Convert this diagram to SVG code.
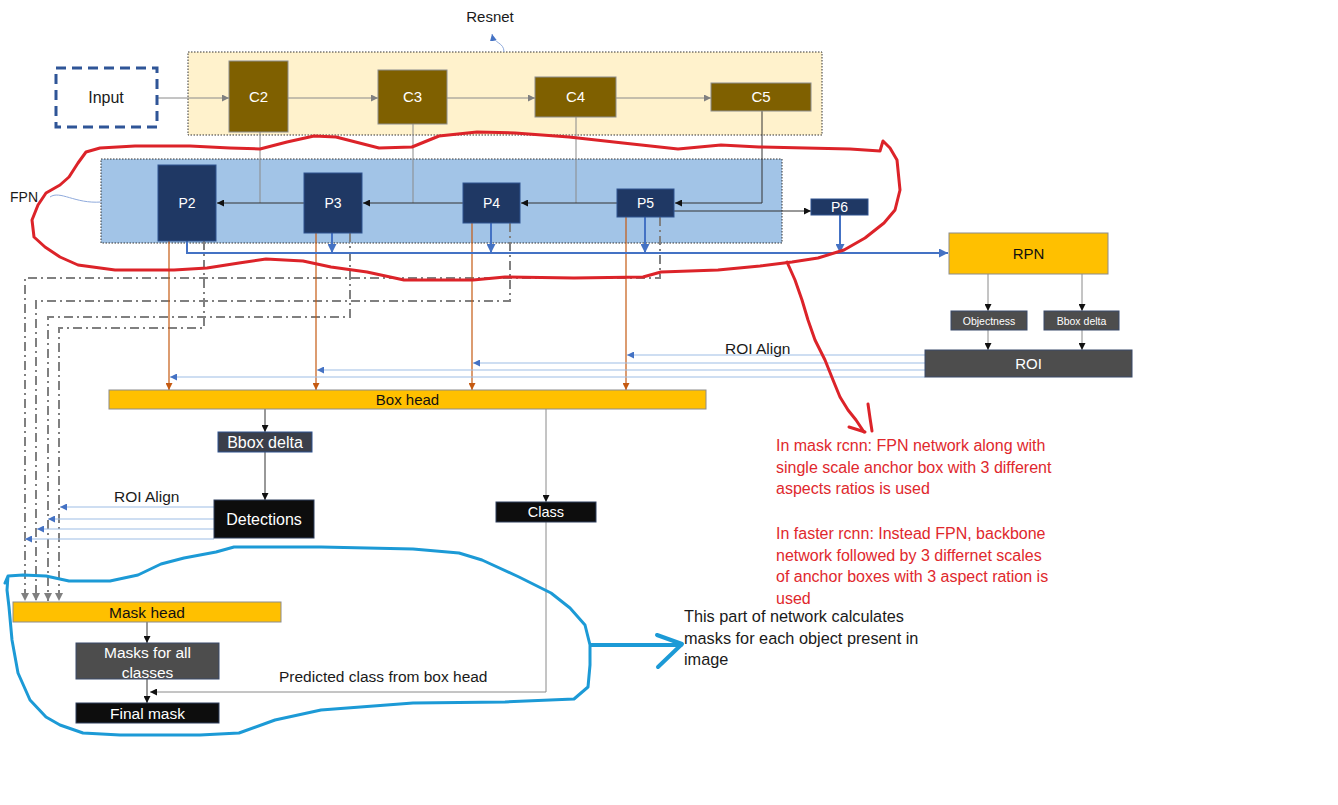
<svg xmlns="http://www.w3.org/2000/svg" width="1338" height="805" viewBox="0 0 1338 805">
<style>
text{font-family:"Liberation Sans",Arial,sans-serif;}
.lbl{fill:#1a1a1a;font-size:15px;}
.wt{fill:#ffffff;text-anchor:middle;}
.bk{fill:#111111;text-anchor:middle;}
.red{fill:#e0282d;font-size:16px;}
.note{fill:#1a1a1a;font-size:16.3px;}
.cbox{fill:#7f6000;stroke:#8c8c8c;stroke-width:1;}
.pbox{fill:#1f3864;stroke:#2f528f;stroke-width:1;}
.ybox{fill:#ffc000;stroke:#8c8c8c;stroke-width:1;}
.gbox{fill:#4d4d4d;stroke:#3a4a6a;stroke-width:1;}
.kbox{fill:#0d0d0d;stroke:#2f3e5c;stroke-width:1;}
.gl{fill:none;stroke:#8a8a8a;stroke-width:1;}
.kl{fill:none;stroke:#333333;stroke-width:1;}
.bl{fill:none;stroke:#4472c4;stroke-width:2;}
.ol{fill:none;stroke:#c55a11;stroke-width:1.2;}
.lb{fill:none;stroke:#9dbde6;stroke-width:1.2;}
.dd{fill:none;stroke:#808080;stroke-width:2;stroke-dasharray:9 4 2 4;}
.red-c{fill:none;stroke:#dc2329;stroke-width:3;stroke-linejoin:round;stroke-linecap:round;}
.blu-c{fill:none;stroke:#1c9ad6;stroke-width:3;stroke-linejoin:round;stroke-linecap:round;}
</style>
<defs>
<marker id="ag" viewBox="0 0 10 10" refX="10" refY="5" markerWidth="7" markerHeight="7" markerUnits="userSpaceOnUse" orient="auto"><path d="M0,0L10,5L0,10z" fill="#808080"/></marker>
<marker id="ak" viewBox="0 0 10 10" refX="10" refY="5" markerWidth="7" markerHeight="7" markerUnits="userSpaceOnUse" orient="auto"><path d="M0,0L10,5L0,10z" fill="#111111"/></marker>
<marker id="ab" viewBox="0 0 10 10" refX="10" refY="5" markerWidth="9" markerHeight="9" markerUnits="userSpaceOnUse" orient="auto"><path d="M0,0L10,5L0,10z" fill="#4472c4"/></marker>
<marker id="ao" viewBox="0 0 10 10" refX="10" refY="5" markerWidth="7" markerHeight="7" markerUnits="userSpaceOnUse" orient="auto"><path d="M0,0L10,5L0,10z" fill="#c55a11"/></marker>
<marker id="al" viewBox="0 0 10 10" refX="10" refY="5" markerWidth="7" markerHeight="7" markerUnits="userSpaceOnUse" orient="auto"><path d="M0,0L10,5L0,10z" fill="#4472c4"/></marker>
<marker id="ad" viewBox="0 0 10 10" refX="10" refY="5" markerWidth="8" markerHeight="8" markerUnits="userSpaceOnUse" orient="auto"><path d="M0,0L10,5L0,10z" fill="#808080"/></marker>
</defs>
<rect width="1338" height="805" fill="#ffffff"/>

<g id="resnet">
<rect x="188" y="52" width="634" height="83" fill="#fff2cc" stroke="#333" stroke-width="1" stroke-dasharray="1.5 1.5"/>
<text x="490" y="22" class="lbl" text-anchor="middle">Resnet</text>
</g>
<g id="fpn">
<rect x="101" y="159" width="681" height="84" fill="#a2c4e7" stroke="#333" stroke-width="1" stroke-dasharray="1.5 1.5"/>
<text x="10" y="202" class="lbl" style="font-size:14px">FPN</text>
</g>

<g id="connectors">
<path d="M504,52 C504,42 494,44 492,34" fill="none" stroke="#8faadc" stroke-width="1" marker-end="url(#al)"/>
<path d="M50,197 C60,190 75,204 101,202" fill="none" stroke="#8faadc" stroke-width="1"/>
<line x1="157" y1="98" x2="229" y2="98" class="gl" marker-end="url(#ag)"/>
<line x1="288" y1="98" x2="378" y2="98" class="gl" marker-end="url(#ag)"/>
<line x1="447" y1="98" x2="535" y2="98" class="gl" marker-end="url(#ag)"/>
<line x1="616" y1="98" x2="711" y2="98" class="gl" marker-end="url(#ag)"/>
<path d="M260,132V203" class="gl" stroke="#666"/>
<path d="M413,124V203" class="gl" stroke="#666"/>
<path d="M576,117V203" class="gl" stroke="#666"/>
<path d="M762,111V203H675" class="kl" marker-end="url(#ak)"/>
<line x1="617" y1="203" x2="521" y2="203" class="kl" marker-end="url(#ak)"/>
<line x1="463" y1="203" x2="363" y2="203" class="kl" marker-end="url(#ak)"/>
<line x1="304" y1="203" x2="217" y2="203" class="kl" marker-end="url(#ak)"/>
<line x1="674" y1="211" x2="811" y2="211" class="kl" marker-end="url(#ak)"/>
<path d="M660,217V278H25V601" class="dd" marker-end="url(#ad)"/>
<path d="M510,223V301H36V601" class="dd" marker-end="url(#ad)"/>
<path d="M350,233V317H48V601" class="dd" marker-end="url(#ad)"/>
<path d="M204,241V328H59V601" class="dd" marker-end="url(#ad)"/>
<line x1="169" y1="241" x2="169" y2="390" class="ol" marker-end="url(#ao)"/>
<line x1="316" y1="233" x2="316" y2="390" class="ol" marker-end="url(#ao)"/>
<line x1="472" y1="223" x2="472" y2="390" class="ol" marker-end="url(#ao)"/>
<line x1="626" y1="217" x2="626" y2="390" class="ol" marker-end="url(#ao)"/>
<path d="M187,241V253H948" class="bl" marker-end="url(#ab)"/>
<line x1="332" y1="233" x2="332" y2="253" class="bl" marker-end="url(#ab)"/>
<line x1="491" y1="223" x2="491" y2="253" class="bl" marker-end="url(#ab)"/>
<line x1="645" y1="217" x2="645" y2="253" class="bl" marker-end="url(#ab)"/>
<line x1="840" y1="215" x2="840" y2="253" class="bl" marker-end="url(#ab)"/>
<line x1="988" y1="274" x2="988" y2="311" class="gl" marker-end="url(#ak)"/>
<line x1="1082" y1="274" x2="1082" y2="311" class="gl" marker-end="url(#ak)"/>
<line x1="988" y1="330" x2="988" y2="350" class="gl" marker-end="url(#ak)"/>
<line x1="1082" y1="330" x2="1082" y2="350" class="gl" marker-end="url(#ak)"/>
<line x1="925" y1="355" x2="627" y2="355" class="lb" marker-end="url(#al)"/>
<line x1="925" y1="363" x2="473" y2="363" class="lb" marker-end="url(#al)"/>
<line x1="925" y1="370" x2="317" y2="370" class="lb" marker-end="url(#al)"/>
<line x1="925" y1="377" x2="170" y2="377" class="lb" marker-end="url(#al)"/>
<line x1="265" y1="409" x2="265" y2="432" class="kl" marker-end="url(#ak)"/>
<line x1="265" y1="452" x2="265" y2="500" class="kl" marker-end="url(#ak)"/>
<line x1="546" y1="409" x2="546" y2="502" class="gl" marker-end="url(#ak)"/>
<path d="M546,522V692H150" class="gl" marker-end="url(#ak)"/>
<line x1="214" y1="507" x2="60" y2="507" class="lb" marker-end="url(#al)"/>
<line x1="214" y1="519" x2="48" y2="519" class="lb" marker-end="url(#al)"/>
<line x1="214" y1="529" x2="37" y2="529" class="lb" marker-end="url(#al)"/>
<line x1="214" y1="539" x2="25" y2="539" class="lb" marker-end="url(#al)"/>
<line x1="147" y1="622" x2="147" y2="643" class="kl" marker-end="url(#ak)"/>
<line x1="147" y1="679" x2="147" y2="703" class="kl" marker-end="url(#ak)"/>
</g>

<g id="input"><rect x="56" y="68" width="101" height="59" fill="#ffffff" stroke="#2f5597" stroke-width="3" stroke-dasharray="10 6"/><text x="106" y="103" class="lbl" text-anchor="middle" style="font-size:16px">Input</text></g>
<g id="c2"><rect x="229" y="61" width="59" height="71" class="cbox"/><text x="258.5" y="102" class="wt" style="font-size:15px">C2</text></g>
<g id="c3"><rect x="378" y="70" width="69" height="54" class="cbox"/><text x="412.5" y="102" class="wt" style="font-size:15px">C3</text></g>
<g id="c4"><rect x="535" y="77" width="81" height="40" class="cbox"/><text x="575.5" y="102" class="wt" style="font-size:15px">C4</text></g>
<g id="c5"><rect x="711" y="83" width="100" height="28" class="cbox"/><text x="761" y="102" class="wt" style="font-size:15px">C5</text></g>

<g id="p2"><rect x="158" y="165" width="58" height="76" class="pbox"/><text x="187" y="208" class="wt" style="font-size:14px">P2</text></g>
<g id="p3"><rect x="304" y="173" width="58" height="60" class="pbox"/><text x="333" y="208" class="wt" style="font-size:14px">P3</text></g>
<g id="p4"><rect x="463" y="183" width="57" height="40" class="pbox"/><text x="491.5" y="208" class="wt" style="font-size:14px">P4</text></g>
<g id="p5"><rect x="617" y="189" width="57" height="28" class="pbox"/><text x="645.5" y="208" class="wt" style="font-size:14px">P5</text></g>
<g id="p6"><rect x="811" y="199" width="57" height="16" class="pbox"/><text x="839.5" y="212" class="wt" style="font-size:14px">P6</text></g>

<g id="rpn"><rect x="949" y="233" width="159" height="41" class="ybox"/><text x="1028.5" y="259" class="bk" style="font-size:15px">RPN</text></g>
<g id="objectness"><rect x="951" y="311" width="76" height="19" class="gbox"/><text x="989" y="324.5" class="wt" style="font-size:10.5px">Objectness</text></g>
<g id="rpn-bbox"><rect x="1044" y="311" width="75" height="19" class="gbox"/><text x="1081.5" y="324.5" class="wt" style="font-size:10.5px">Bbox delta</text></g>
<g id="roi"><rect x="925" y="350" width="207" height="27" class="gbox"/><text x="1028.5" y="369" class="wt" style="font-size:15px">ROI</text></g>
<g id="roi-align-1"><text x="725" y="354" class="lbl" style="font-size:15.5px">ROI Align</text></g>

<g id="boxhead"><rect x="109" y="390" width="597" height="19" class="ybox"/><text x="407.5" y="405" class="bk" style="font-size:15px">Box head</text></g>
<g id="bbox-delta"><rect x="218" y="432" width="94" height="20" fill="#3b3f4a" stroke="#2f528f" stroke-width="1"/><text x="265" y="447.5" class="wt" style="font-size:16px">Bbox delta</text></g>
<g id="detections"><rect x="214" y="500" width="100" height="38" class="kbox"/><text x="264" y="524.5" class="wt" style="font-size:16px">Detections</text></g>
<g id="class"><rect x="496" y="502" width="100" height="20" class="kbox"/><text x="546" y="517" class="wt" style="font-size:14.5px">Class</text></g>
<g id="roi-align-2"><text x="114" y="502" class="lbl" style="font-size:15.5px">ROI Align</text></g>

<g id="maskhead"><rect x="13" y="602" width="268" height="20" class="ybox"/><text x="147" y="617.5" class="bk" style="font-size:15.5px">Mask head</text></g>
<g id="masks-all"><rect x="76" y="643" width="143" height="36" class="gbox"/><text x="147.5" y="657.5" class="wt" style="font-size:15.5px">Masks for all</text><text x="147.5" y="677.5" class="wt" style="font-size:15.5px">classes</text></g>
<g id="finalmask"><rect x="76" y="703" width="143" height="20" class="kbox"/><text x="147.5" y="718.5" class="wt" style="font-size:15.5px">Final mask</text></g>
<g id="pred-label"><text x="279" y="682" class="lbl" style="font-size:15.5px">Predicted class from box head</text></g>

<g id="annotations">
<polyline class="red-c" points="86,152 100,148 135,146 190,146 230,148 260,149 287,142 314,136 336,137 379,148 412,147 439,136 477,132 515,133 569,137 623,143 678,149 721,145 759,147 850,149 880,151 883,141 890,148 897,160 900,190 895,210 884,223 865,238 844,250 818,258 792,262 760,266 718,270 661,272 643,277 574,278 505,277 473,280 404,280 367,272 331,267 303,261 266,259 239,263 207,268 174,270 115,270 78,265 60,257 45,247 34,237 32,220 38,205 46,193 60,185 69,177 78,163 86,152"/>
<polyline class="red-c" points="787,262 795,280 802,300 808,320 815,340 825,360 833,380 840,397 848,410 856,420 864,432"/>
<polyline class="red-c" points="849,427 865,432"/>
<polyline class="red-c" points="868,404 870,418 872,431"/>
<g id="note-red">
<text x="776" y="451" class="red">In mask rcnn: FPN network along with</text>
<text x="776" y="473" class="red">single scale anchor box with 3 different</text>
<text x="776" y="494" class="red">aspects ratios is used</text>
<text x="776" y="539" class="red">In faster rcnn: Instead FPN, backbone</text>
<text x="776" y="561" class="red">network followed by 3 differnet scales</text>
<text x="776" y="582" class="red">of anchor boxes with 3 aspect ration is</text>
<text x="776" y="604" class="red">used</text>
</g>
<polyline class="blu-c" points="5,583 8,576 23,575 46,576 69,581 110,581 138,575 161,564 184,558 216,552 234,547 321,547 413,549 459,553 482,560 519,577 551,593 570,608 585,625 590,645 590,665 588,687 574,699 505,702 413,703 321,710 275,720 239,733 200,735 120,735 83,733 60,725 46,717 30,700 18,673 12,640 9,607 7,590 8,576"/>
<polyline class="blu-c" points="591,645 681,645" style="stroke-width:4"/>
<polyline class="blu-c" points="657,635 682,644 658,667" style="stroke-width:4"/>
<g id="note-black">
<text x="684" y="622" class="note">This part of network calculates</text>
<text x="684" y="644" class="note">masks for each object present in</text>
<text x="684" y="665" class="note">image</text>
</g>
</g>
</svg>
